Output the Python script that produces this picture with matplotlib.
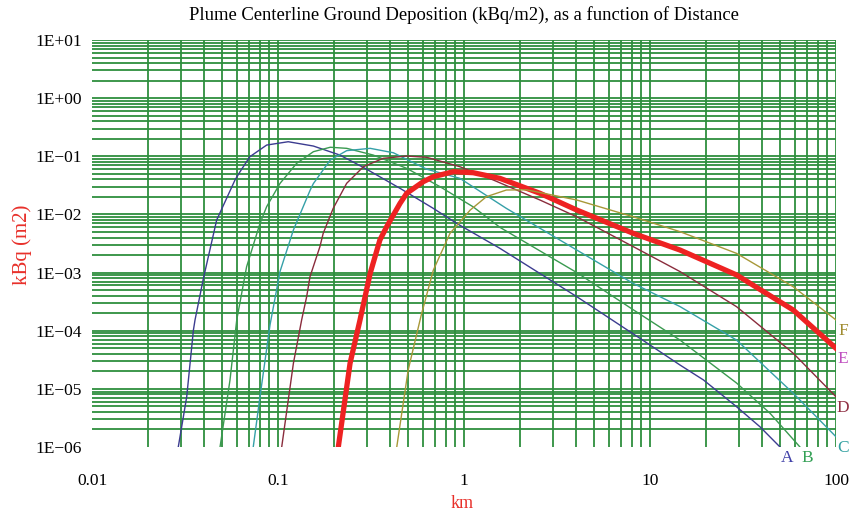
import matplotlib
matplotlib.use("Agg")
import matplotlib.pyplot as plt

# distances (km) and centerline ground deposition (kBq/m2) for each stability class
dist_a = [0.0291, 0.0323, 0.0351, 0.0358, 0.0397, 0.0468, 0.0587, 0.0625, 0.0706, 0.0869,
          0.1135, 0.155, 0.215, 0.294, 0.453, 0.684, 0.914, 1.56, 4.04, 8.83,
          14.5, 19.4, 29.2, 39.0, 50.0]
dep_a = [1.0e-6, 7.3e-6, 1.03e-4, 1.53e-4, 7.9e-4, 8.0e-3, 0.039, 0.0543, 0.0984, 0.156,
         0.178, 0.150, 0.105, 0.062, 0.0281, 0.0127, 0.0070, 2.61e-3, 3.85e-4, 7.4e-5,
         2.57e-5, 1.42e-5, 4.93e-6, 2.23e-6, 1.0e-6]

dist_b = [0.0488, 0.0552, 0.060, 0.0678, 0.080, 0.0869, 0.1026, 0.126, 0.155, 0.191,
          0.234, 0.325, 0.492, 0.743, 1.12, 1.56, 4.04, 8.13, 14.5, 29.2,
          44.2, 64.0]
dep_b = [1.0e-6, 1.42e-5, 1.53e-4, 1.26e-3, 7.0e-3, 0.0136, 0.0343, 0.0757, 0.120, 0.143,
         0.137, 0.105, 0.062, 0.030, 0.0135, 6.0e-3, 1.0e-3, 2.29e-4, 6.9e-5, 1.26e-5,
         3.8e-6, 1.0e-6]

dist_c = [0.0736, 0.080, 0.0906, 0.1026, 0.121, 0.149, 0.155, 0.191, 0.234, 0.313,
          0.417, 0.63, 0.95, 1.69, 4.04, 8.13, 14.5, 29.2, 58.9, 100.0]
dep_c = [1.0e-6, 7.3e-6, 1.26e-4, 1.05e-3, 5.4e-3, 0.0263, 0.034, 0.0863, 0.125, 0.137,
         0.115, 0.060, 0.0418, 0.0127, 2.44e-3, 6.5e-4, 2.6e-4, 6.9e-5, 8.4e-6, 1.5e-6]

dist_d = [0.1047, 0.121, 0.134, 0.1426, 0.1486, 0.168, 0.175, 0.198, 0.234, 0.288,
          0.368, 0.492, 0.63, 0.95, 1.44, 2.56, 4.04, 8.13, 14.5, 29.2,
          58.9, 100.0]
dep_d = [1.0e-6, 2.75e-5, 1.53e-4, 3.85e-4, 8.5e-4, 2.79e-3, 4.73e-3, 0.0127, 0.0343, 0.0662,
         0.0923, 0.101, 0.096, 0.0662, 0.039, 0.0177, 9.1e-3, 2.79e-3, 1.04e-3, 2.59e-4,
         4.1e-5, 7.3e-6]

dist_e = [0.211, 0.244, 0.276, 0.313, 0.353, 0.384, 0.453, 0.492, 0.604, 0.684,
          0.877, 1.12, 1.56, 2.56, 4.04, 8.13, 14.5, 29.2, 58.9, 100.0]
dep_e = [1.0e-6, 2.75e-5, 1.53e-4, 9.7e-4, 3.63e-3, 6.15e-3, 0.0155, 0.0231, 0.0366, 0.0446,
         0.0543, 0.0522, 0.0417, 0.0231, 0.0119, 4.73e-3, 2.44e-3, 9.1e-4, 2.27e-4, 4.98e-5]

dist_f = [0.435, 0.501, 0.59, 0.684, 0.841, 1.08, 1.32, 1.69, 2.17, 4.04,
          8.13, 14.5, 29.2, 58.9, 100.0]
dep_f = [1.0e-6, 2.11e-5, 1.9e-4, 1.1e-3, 4.73e-3, 0.0119, 0.0202, 0.0263, 0.0265, 0.0177,
         9.1e-3, 5.05e-3, 2.14e-3, 5.7e-4, 1.53e-4]

class_names = ["A", "B", "C", "D", "E", "F"]
line_colors = ["#3c3c90", "#3a9a50", "#35a0a8", "#8a2c3c", "#ee2222", "#a89838"]
label_colors = ["#4040a8", "#33a055", "#30a0a0", "#903044", "#c050c0", "#a08c30"]
line_widths = [1.0, 1.0, 1.0, 1.0, 3.8, 1.0]

x_ticks = [0.01, 0.1, 1, 10, 100]
x_tick_labels = ["0.01", "0.1", "1", "10", "100"]
y_ticks = [1e-6, 1e-5, 1e-4, 1e-3, 1e-2, 1e-1, 1e0, 1e1]
y_tick_labels = ["1E\u221206", "1E\u221205", "1E\u221204", "1E\u221203",
                 "1E\u221202", "1E\u221201", "1E+00", "1E+01"]

plt.rcParams["font.family"] = ["Liberation Serif", "DejaVu Serif"]
grid_green = "#2e8f3e"
red_text = "#e8302a"

fig = plt.figure(figsize=(8.5, 5.15), dpi=100)
ax = fig.add_axes([92 / 850, 1 - 447 / 515, (836 - 92) / 850, (447 - 40) / 515])
ax.set_xscale("log")
ax.set_yscale("log")
ax.set_xlim(0.01, 100)
ax.set_ylim(1e-6, 1e1)

# green grid at 2..10 of every decade (no line on the left / bottom edge)
for decade in [0.01, 0.1, 1, 10]:
    for m in range(2, 11):
        ax.axvline(m * decade, color=grid_green, lw=1.3, zorder=1)
for decade in [1e-6, 1e-5, 1e-4, 1e-3, 1e-2, 1e-1, 1e0]:
    for m in range(2, 11):
        ax.axhline(m * decade, color=grid_green, lw=1.3, zorder=1)

all_dist = [dist_a, dist_b, dist_c, dist_d, dist_e, dist_f]
all_dep = [dep_a, dep_b, dep_c, dep_d, dep_e, dep_f]
for name, xs, ys, lc, tc, lw in zip(class_names, all_dist, all_dep, line_colors,
                                    label_colors, line_widths):
    ax.plot(xs, ys, color=lc, lw=lw, zorder=3, solid_joinstyle="round")
    ax.annotate(name, xy=(xs[-1], ys[-1]), xytext=(7, -11), textcoords="offset pixels",
                color=tc, fontsize=12.5, ha="center", va="center", annotation_clip=False)

for s in ax.spines.values():
    s.set_visible(False)
ax.set_xticks(x_ticks)
ax.set_xticklabels(x_tick_labels)
ax.set_yticks(y_ticks)
ax.set_yticklabels(y_tick_labels)
ax.minorticks_off()
ax.tick_params(axis="both", length=0, labelsize=12.5)
ax.tick_params(axis="x", pad=19)
ax.tick_params(axis="y", pad=7)

fig.text(464 / 850, 1 - 15 / 515, "Plume Centerline Ground Deposition (kBq/m2), as a function of Distance",
         ha="center", va="center", fontsize=13.4)
fig.text(22 / 850, 1 - 245 / 515, "kBq (m2)", rotation=90, ha="center", va="center",
         color=red_text, fontsize=15)
fig.text(462 / 850, 1 - 503 / 515, "km", ha="center", va="center", color=red_text, fontsize=13)

fig.savefig("out.png", dpi=100)
plt.close()
